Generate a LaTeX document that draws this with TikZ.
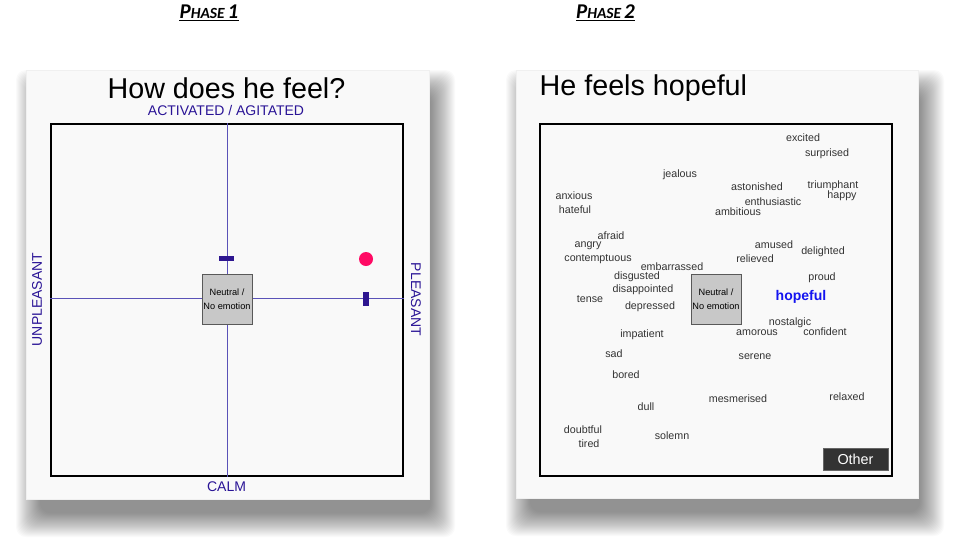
\documentclass[tikz,border=0pt]{standalone}
\usepackage{fontspec}
\setmainfont{Liberation Sans}
\newfontfamily\phasefont{Carlito}
\definecolor{cardbg}{HTML}{F9F9F9}
\definecolor{axislbl}{HTML}{2A1496}
\definecolor{axisline}{HTML}{5A52B8}
\definecolor{marker}{HTML}{2E1690}
\definecolor{dotpink}{HTML}{FF0A64}
\definecolor{wordc}{HTML}{333333}
\definecolor{neutralfill}{HTML}{C8C8C8}
\definecolor{hopeblue}{HTML}{1414F0}
\tikzset{
  card/.style={fill=cardbg, draw=black!6, line width=0.5pt},
  gridbox/.style={draw=black, line width=2pt, fill=cardbg, minimum width=352pt, minimum height=352pt, inner sep=0pt},
  axisl/.style={draw=axisline, line width=0.9pt},
  axislabel/.style={text=axislbl, font=\fontsize{14}{16}\selectfont, inner sep=0pt},
  neutralbox/.style={draw=black!65, line width=0.8pt, fill=neutralfill, minimum width=50pt, minimum height=50pt, inner sep=0pt, align=center, font=\fontsize{9.2}{14}\selectfont},
  word/.style={text=wordc, font=\fontsize{10.7}{12}\selectfont, inner sep=0pt},
  phase/.style={font=\phasefont\bfseries\itshape, inner sep=0pt},
  title/.style={font=\fontsize{28.7}{30}\selectfont, inner sep=0pt},
}
\newcommand{\cardshadow}[4]{%
  \foreach \k in {24,23,...,0} {
    \fill[black, opacity=0.02, rounded corners=10pt] ({#1+14-\k},{#2+24-\k}) rectangle ({#3+2+\k},{#4+14+\k});
  }%
}
\newcommand{\phaselabel}[1]{\fontsize{21}{22}\selectfont P\fontsize{15.5}{16}\selectfont HASE\hspace{3pt}\fontsize{21}{22}\selectfont #1}
\begin{document}
\begin{tikzpicture}[x=1pt,y=-1pt]
\useasboundingbox (0,0) rectangle (957,544);
\fill[white] (0,0) rectangle (957,544);

% phase labels
\node[phase] (ph1) at (209,11.5) {\phaselabel{1}};
\draw[line width=1.4pt] (ph1.west |- 0,20.5) -- (ph1.east |- 0,20.5);
\node[phase] (ph2) at (605.5,11.5) {\phaselabel{2}};
\draw[line width=1.4pt] (ph2.west |- 0,20.5) -- (ph2.east |- 0,20.5);

% ---------- Panel 1 ----------
\cardshadow{26}{70}{429}{499}
\fill[card] (26,70) rectangle (429,499);
\node[title] (t1) at (226.5,88) {How does he feel?};
\node[axislabel] (act) at (226,110) {ACTIVATED / AGITATED};
\node[gridbox] (g1) at (227,300) {};
\draw[axisl] (g1.north -| 227,0) -- (g1.south -| 227,0);
\draw[axisl] (g1.west |- 0,298) -- (g1.east |- 0,298);
\node[axislabel] (calm) at (226.5,487) {CALM};
\node[axislabel, rotate=90] (unp) at (37,299.5) {UNPLEASANT};
\node[axislabel, rotate=-90] (ple) at (416,299.5) {PLEASANT};
\node[neutralbox] (n1) at (227,299) {Neutral /\\No emotion};
\node[fill=marker, minimum width=15pt, minimum height=5pt, inner sep=0pt] (hbar) at (226.5,258.5) {};
\node[fill=marker, minimum width=6pt, minimum height=14pt, inner sep=0pt] (vbar) at (366,299) {};
\node[circle, fill=dotpink, minimum size=14pt, inner sep=0pt] (dot) at (366,259) {};

% ---------- Panel 2 ----------
\cardshadow{516}{70}{918}{498}
\fill[card] (516,70) rectangle (918,498);
\node[title, anchor=west] (t2) at (539.5,88) {He feels hopeful};
\node[gridbox] (g2) at (716,300) {};
\node[neutralbox] (n2) at (716,299.5) {Neutral /\\No emotion};
\node[fill=black!80, draw=black!60, minimum width=65pt, minimum height=22pt, inner sep=0pt, text=white, font=\fontsize{14.4}{16}\selectfont] (other) at (855.5,459) {Other};

\node[word] (w1) at (803,138) {excited};
\node[word] (w2) at (827,154) {surprised};
\node[word] (w3) at (680,175) {jealous};
\node[word] (w4) at (757,187) {astonished};
\node[word] (w5) at (833,186) {triumphant};
\node[word] (w6) at (842,196) {happy};
\node[word] (w7) at (574,196) {anxious};
\node[word] (w8) at (773,202) {enthusiastic};
\node[word] (w9) at (575,210) {hateful};
\node[word] (w10) at (738,212) {ambitious};
\node[word] (w11) at (611,236) {afraid};
\node[word] (w12) at (774,245) {amused};
\node[word] (w13) at (588,246) {angry};
\node[word] (w14) at (823,252) {delighted};
\node[word] (w15) at (755,259) {relieved};
\node[word] (w16) at (598,259) {contemptuous};
\node[word] (w17) at (672,267) {embarrassed};
\node[word] (w18) at (637,277) {disgusted};
\node[word] (w19) at (822,278) {proud};
\node[word] (w20) at (643,290) {disappointed};
\node[word] (w21) at (590,299) {tense};
\node[text=hopeblue, font=\bfseries\fontsize{14}{16}\selectfont, inner sep=0pt] (w22) at (801,297) {hopeful};
\node[word] (w23) at (650,307) {depressed};
\node[word] (w24) at (790,323) {nostalgic};
\node[word] (w25) at (825,332) {confident};
\node[word] (w26) at (757,333) {amorous};
\node[word] (w27) at (642,335) {impatient};
\node[word] (w28) at (614,354) {sad};
\node[word] (w29) at (755,357) {serene};
\node[word] (w30) at (626,375) {bored};
\node[word] (w31) at (738,399) {mesmerised};
\node[word] (w32) at (847,397) {relaxed};
\node[word] (w33) at (646,407) {dull};
\node[word] (w34) at (583,430) {doubtful};
\node[word] (w35) at (672,436) {solemn};
\node[word] (w36) at (589,444) {tired};
\end{tikzpicture}
\end{document}
